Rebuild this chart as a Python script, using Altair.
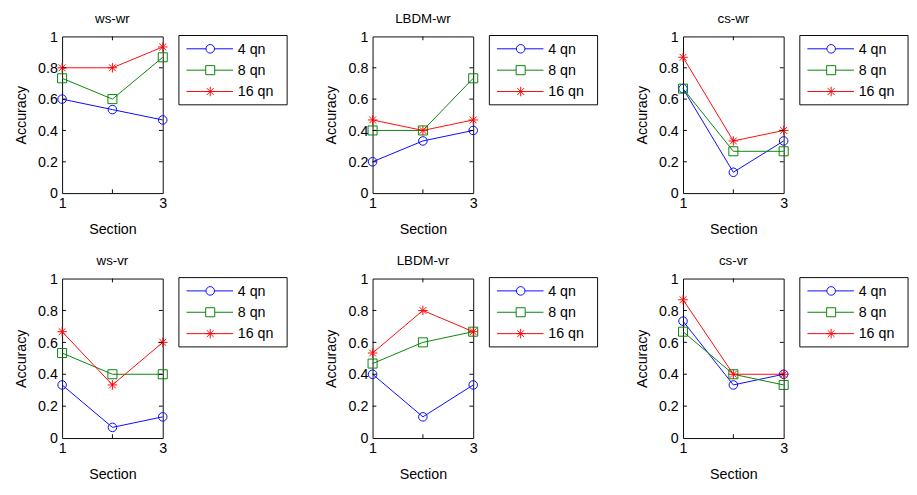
import altair as alt
import pandas as pd

series = ["4 qn", "8 qn", "16 qn"]
colors = ["#0000ff", "#008000", "#ff0000"]
sections = [1, 2, 3]
yticks = [0, 0.2, 0.4, 0.6, 0.8, 1]
xticks = [1, 2, 3]
panels = ["ws-wr", "LBDM-wr", "cs-wr", "ws-vr", "LBDM-vr", "cs-vr"]

ws_wr = {"4 qn": [0.600, 0.533, 0.467], "8 qn": [0.733, 0.600, 0.867], "16 qn": [0.800, 0.800, 0.933]}
lbdm_wr = {"4 qn": [0.200, 0.333, 0.400], "8 qn": [0.400, 0.400, 0.733], "16 qn": [0.467, 0.400, 0.467]}
cs_wr = {"4 qn": [0.667, 0.133, 0.333], "8 qn": [0.667, 0.267, 0.267], "16 qn": [0.867, 0.333, 0.400]}
ws_vr = {"4 qn": [0.333, 0.067, 0.133], "8 qn": [0.533, 0.400, 0.400], "16 qn": [0.667, 0.333, 0.600]}
lbdm_vr = {"4 qn": [0.400, 0.133, 0.333], "8 qn": [0.467, 0.600, 0.667], "16 qn": [0.533, 0.800, 0.667]}
cs_vr = {"4 qn": [0.733, 0.333, 0.400], "8 qn": [0.667, 0.400, 0.333], "16 qn": [0.867, 0.400, 0.400]}
panel_data = [ws_wr, lbdm_wr, cs_wr, ws_vr, lbdm_vr, cs_vr]

ASTERISK = "M-1,0L1,0M0,-1L0,1M-0.72,-0.72L0.72,0.72M-0.72,0.72L0.72,-0.72"
FONT = "Liberation Sans"
W = 106

color_scale = alt.Scale(domain=series, range=colors)
shape_scale = alt.Scale(domain=series, range=["circle", "square", ASTERISK])
size_scale = alt.Scale(domain=series, range=[81, 100, 90])
xs = alt.Scale(domain=[1, 3], nice=False, zero=False)
ys = alt.Scale(domain=[0, 1], nice=False)

legend_df = pd.DataFrame({"series": series, "idx": list(range(len(series)))})
ytick_df = pd.DataFrame({"acc": yticks[1:-1]})
xtick_df = pd.DataFrame({"section": xticks[1:-1]})
box_df = pd.DataFrame({"k": [0]})

AX = dict(grid=False, ticks=False, domain=False, labelOverlap=False, labelFlush=False,
          labelFont=FONT, labelFontSize=15, labelColor="black",
          titleFont=FONT, titleFontSize=15, titleColor="black", titleFontWeight="normal")
XAXIS = alt.Axis(values=xticks, format="d", title="Section", labelPadding=3, titlePadding=13, **AX)
YAXIS = alt.Axis(values=yticks, format="~g", title="Accuracy", labelPadding=5, titlePadding=10, **AX)


def panel(title, d, H):
    rows = []
    for s in series:
        for sec, v in zip(sections, d[s]):
            rows.append({"series": s, "section": sec, "acc": v})
    df = pd.DataFrame(rows)
    base = alt.Chart(df).encode(
        x=alt.X("section:Q", scale=xs, axis=XAXIS),
        y=alt.Y("acc:Q", scale=ys, axis=YAXIS),
        color=alt.Color("series:N", scale=color_scale, legend=None),
    )
    lines = base.mark_line(strokeWidth=1).encode(detail="series:N")
    pts = base.mark_point(filled=False, strokeWidth=1, opacity=1).encode(
        shape=alt.Shape("series:N", scale=shape_scale, legend=None),
        size=alt.Size("series:N", scale=size_scale, legend=None),
    )
    yl = alt.Chart(ytick_df).mark_rule(color="black", strokeWidth=1).encode(
        y=alt.Y("acc:Q", scale=ys, axis=YAXIS), x=alt.value(0), x2=alt.value(4))
    yr = alt.Chart(ytick_df).mark_rule(color="black", strokeWidth=1).encode(
        y=alt.Y("acc:Q", scale=ys, axis=YAXIS), x=alt.value(W - 4), x2=alt.value(W))
    xb = alt.Chart(xtick_df).mark_rule(color="black", strokeWidth=1).encode(
        x=alt.X("section:Q", scale=xs, axis=XAXIS), y=alt.value(H - 4), y2=alt.value(H))
    xt = alt.Chart(xtick_df).mark_rule(color="black", strokeWidth=1).encode(
        x=alt.X("section:Q", scale=xs, axis=XAXIS), y=alt.value(0), y2=alt.value(4))
    box = alt.Chart(box_df).mark_rect(fill="white", stroke="black", strokeWidth=1).encode(
        x=alt.value(123), x2=alt.value(237), y=alt.value(-1), y2=alt.value(72))
    leg = alt.Chart(legend_df).transform_calculate(ly="13 + datum.idx * 22.5")
    leg_line = leg.mark_rule(strokeWidth=1).encode(
        x=alt.value(131), x2=alt.value(180), y=alt.Y("ly:Q", scale=None),
        color=alt.Color("series:N", scale=color_scale, legend=None))
    leg_pt = leg.mark_point(filled=False, strokeWidth=1, opacity=1, fill="white").encode(
        x=alt.value(156), y=alt.Y("ly:Q", scale=None),
        color=alt.Color("series:N", scale=color_scale, legend=None),
        shape=alt.Shape("series:N", scale=shape_scale, legend=None),
        size=alt.Size("series:N", scale=size_scale, legend=None))
    leg_txt = leg.mark_text(align="left", baseline="middle", font=FONT, fontSize=15, color="black").encode(
        x=alt.value(185), y=alt.Y("ly:Q", scale=None), text="series:N")
    return alt.layer(lines, pts, yl, yr, xb, xt, box, leg_line, leg_pt, leg_txt).properties(
        width=W, height=H,
        title=alt.TitleParams(title, fontSize=14, font=FONT, fontWeight="normal", color="black", offset=4),
    )


charts = [panel(t, d, 165 if i < 3 else 168) for i, (t, d) in enumerate(zip(panels, panel_data))]
row1 = alt.hconcat(*charts[:3], spacing=37)
row2 = alt.hconcat(*charts[3:], spacing=37)
chart = alt.vconcat(row1, row2, spacing=17).properties(
    padding={"left": 5, "top": -9, "right": 0, "bottom": 0}
).configure(background="white").configure_view(stroke="black", strokeWidth=1)

chart.save("out.html", embed_options={"renderer": "svg", "actions": False})
